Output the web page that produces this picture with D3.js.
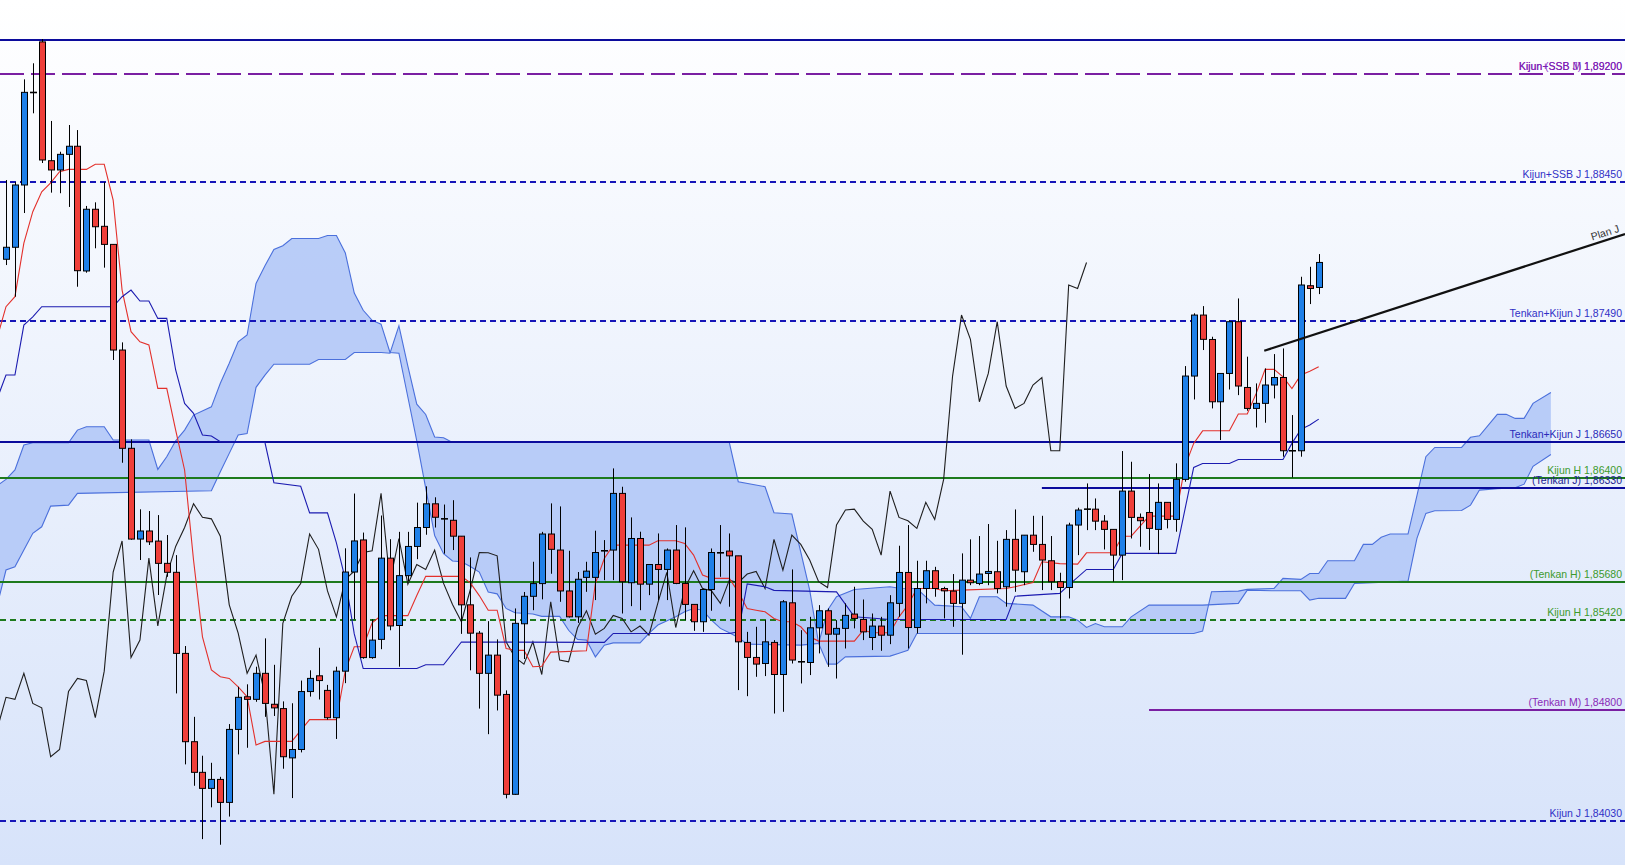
<!DOCTYPE html>
<html><head><meta charset="utf-8">
<script src="https://cdn.jsdelivr.net/npm/d3@7/dist/d3.min.js"></script>
<style>html,body{margin:0;padding:0;background:#fff;overflow:hidden}svg{display:block}</style>
</head><body>
<svg id="chart" width="1625" height="865"></svg>
<script>
// ---------------- DATA ----------------
const opens = [
1.87916,1.87999,1.8843,1.8907,1.8942,1.88598,1.88534,1.88642,1.88698,1.87835,
1.88262,1.88144,1.88019,1.87288,1.86608,1.8598,1.86036,1.85966,1.85812,1.8575,
1.85189,1.84578,1.84366,1.84255,1.84317,1.84158,1.84663,1.84889,1.84871,1.85051,
1.84837,1.84807,1.84466,1.84524,1.84925,1.85034,1.84933,1.84744,1.85066,1.85752,
1.85974,1.8516,1.85286,1.85848,1.85382,1.85727,1.85929,1.8606,1.86224,1.8612,
1.8611,1.86,1.85525,1.85329,1.85051,1.85177,1.84905,1.84214,1.85394,1.85584,
1.85672,1.86015,1.85904,1.85621,1.85442,1.85715,1.85715,1.85899,1.85904,1.86296,
1.85678,1.85984,1.85668,1.85804,1.8577,1.85904,1.85673,1.85528,1.85408,1.85631,
1.85885,1.85897,1.85864,1.85265,1.85161,1.85119,1.85265,1.85043,1.85539,1.85131,
1.85126,1.85366,1.85484,1.85322,1.85362,1.85461,1.85424,1.85299,1.85378,1.85315,
1.85535,1.85749,1.85368,1.85638,1.85761,1.85638,1.8562,1.85535,1.85696,1.85673,
1.85742,1.85754,1.8565,1.85978,1.85754,1.86007,1.85943,1.8583,1.85685,1.85645,
1.86077,1.86187,1.86187,1.86104,1.86047,1.85869,1.86312,1.8613,1.86164,1.86047,
1.86234,1.86116,1.86393,1.87108,1.8753,1.87361,1.8693,1.87126,1.87484,1.87029,
1.86884,1.86919,1.87046,1.87098,1.86591,1.86591,1.87733,1.87721];
const highs = [
1.88464,1.8845,1.89161,1.89272,1.8944,1.88873,1.8866,1.88845,1.8881,1.88285,
1.8831,1.88449,1.8802,1.87341,1.8667,1.86186,1.86174,1.86146,1.86008,1.85869,
1.8524,1.8475,1.84481,1.84432,1.84335,1.847,1.84958,1.84975,1.85097,1.85293,
1.8511,1.84857,1.84844,1.85001,1.85072,1.85228,1.84971,1.85097,1.85916,1.86295,
1.86025,1.85425,1.86143,1.85979,1.8603,1.8603,1.86232,1.86345,1.86269,1.86219,
1.86249,1.86,1.85853,1.85344,1.85412,1.85286,1.84933,1.855,1.85614,1.85823,
1.8603,1.86227,1.86206,1.85899,1.85752,1.85823,1.86038,1.85973,1.86469,1.86342,
1.8613,1.86031,1.85804,1.86019,1.85915,1.86077,1.86061,1.85528,1.85638,1.85915,
1.86077,1.86019,1.85864,1.85338,1.85373,1.85419,1.85281,1.85558,1.8577,1.8535,
1.85442,1.85523,1.855,1.85419,1.85535,1.8565,1.85562,1.85465,1.85442,1.85592,
1.85934,1.86077,1.8583,1.8583,1.85788,1.8565,1.85738,1.85881,1.85978,1.86001,
1.86084,1.85968,1.86042,1.86185,1.86007,1.86141,1.86141,1.86001,1.85747,1.86093,
1.86197,1.86365,1.86261,1.86146,1.86047,1.86589,1.86515,1.86157,1.8643,1.86365,
1.86234,1.86504,1.87177,1.87542,1.87592,1.8738,1.87126,1.87495,1.87645,1.87242,
1.87057,1.87161,1.8726,1.87299,1.86838,1.87795,1.87864,1.87952];
const lows = [
1.87876,1.87657,1.88236,1.88926,1.88582,1.88377,1.88373,1.88278,1.87726,1.87823,
1.87992,1.87858,1.87219,1.86508,1.85975,1.85835,1.85939,1.85593,1.85719,1.84912,
1.84421,1.84273,1.83904,1.84124,1.83865,1.8406,1.8449,1.84536,1.84854,1.8475,
1.84756,1.84391,1.84188,1.84504,1.8489,1.8487,1.84731,1.84597,1.84983,1.85425,
1.85152,1.85152,1.85218,1.85349,1.85097,1.8569,1.85841,1.8601,1.8606,1.85879,
1.85904,1.85324,1.85072,1.84807,1.8463,1.84794,1.84186,1.8421,1.8515,1.85488,
1.85563,1.8574,1.85546,1.85437,1.854,1.85615,1.85558,1.85696,1.85696,1.85465,
1.85516,1.85488,1.85592,1.85558,1.85558,1.85668,1.85419,1.85345,1.85338,1.85484,
1.85719,1.85512,1.84935,1.84893,1.85027,1.85032,1.84773,1.84785,1.85119,1.84981,
1.85039,1.85189,1.85096,1.85015,1.85223,1.85362,1.85281,1.85212,1.85207,1.85253,
1.85442,1.85223,1.85327,1.85535,1.85581,1.85431,1.85373,1.8518,1.85661,1.85661,
1.85661,1.85604,1.85512,1.85615,1.85661,1.85892,1.85627,1.85627,1.85431,1.85569,
1.85869,1.86042,1.86042,1.85908,1.85685,1.85696,1.85984,1.85927,1.85904,1.85876,
1.86054,1.86031,1.86377,1.86946,1.87288,1.86884,1.86665,1.87015,1.86976,1.86868,
1.86752,1.86785,1.86953,1.8655,1.86406,1.8655,1.87606,1.87675];
const closes = [
1.87999,1.8843,1.89071,1.8907,1.88603,1.88534,1.88642,1.88698,1.87837,1.88262,
1.88141,1.88019,1.87288,1.86608,1.8598,1.86036,1.85961,1.85812,1.8575,1.85189,
1.84578,1.84366,1.84255,1.84317,1.84158,1.84663,1.84885,1.84871,1.85051,1.84843,
1.84812,1.84474,1.84524,1.84925,1.85016,1.85001,1.84744,1.85066,1.85752,1.85967,
1.8516,1.85281,1.85848,1.85379,1.85727,1.85929,1.8606,1.86224,1.86131,1.8612,
1.86,1.85525,1.85329,1.85051,1.85177,1.849,1.84214,1.85397,1.85584,1.85672,
1.86015,1.85909,1.85621,1.85442,1.85702,1.85758,1.85887,1.85899,1.86296,1.85685,
1.85984,1.85668,1.85804,1.8577,1.85904,1.85673,1.85528,1.85408,1.85631,1.85887,
1.85885,1.85864,1.85269,1.85161,1.85115,1.85269,1.85043,1.85546,1.85143,1.85131,
1.85366,1.85484,1.85322,1.85362,1.85452,1.85431,1.85338,1.85378,1.85315,1.85539,
1.85749,1.85368,1.85638,1.85761,1.85638,1.85622,1.85535,1.85696,1.85678,1.85738,
1.85756,1.85638,1.85978,1.85765,1.86007,1.85943,1.85835,1.85685,1.85645,1.86077,
1.86181,1.86187,1.86104,1.86047,1.85869,1.86312,1.8613,1.86107,1.86054,1.86234,
1.86116,1.86393,1.87108,1.8753,1.87362,1.8693,1.87126,1.87484,1.87039,1.86884,
1.86919,1.87046,1.87098,1.86591,1.86591,1.87738,1.87714,1.87894];

// Ichimoku lines, vertices as [bar index, price]
const tenkan = [[-1,1.8737],[0,1.87588],[1,1.87657],[2,1.88028],[3,1.88245],[4,1.88383],[5,1.88444],[6,1.88522],[7,1.88538],[9,1.88538],[10,1.88573],[11,1.88573],[12,1.88326],[13,1.87703],[14,1.87415],[15,1.87345],[16,1.87323],[17,1.87023],[18,1.87023],[19,1.86734],[20,1.86458],[21,1.85835],[22,1.85304],[23,1.85074],[24,1.85027],[25,1.85016],[26,1.84958],[27,1.84889],[28,1.84555],[29,1.8458],[32,1.8458],[34,1.84731],[37,1.84731],[38,1.85072],[39,1.85235],[40,1.85235],[41,1.854],[42,1.8545],[45,1.8545],[46,1.85589],[47,1.85722],[51,1.85722],[52,1.85677],[53,1.85589],[54,1.85488],[55,1.85488],[56,1.85223],[57,1.8521],[58,1.8521],[59,1.85097],[60,1.851],[61,1.85198],[65,1.85207],[66,1.85673],[67,1.85846],[68,1.85938],[72,1.85938],[73,1.85968],[75,1.85968],[76,1.8595],[77,1.85869],[78,1.85731],[79,1.85708],[81,1.85708],[82,1.85615],[83,1.855],[84,1.85488],[85,1.85477],[86,1.85431],[87,1.85408],[88,1.85408],[89,1.85373],[90,1.85304],[91,1.85274],[95,1.85274],[96,1.8535],[97,1.85332],[99,1.85332],[100,1.85442],[101,1.85523],[102,1.85638],[104,1.85638],[105,1.85622],[107,1.85627],[112,1.85638],[113,1.8565],[115,1.8568],[116,1.85823],[118,1.8581],[120,1.85807],[121,1.85885],[124,1.85885],[125,1.86],[126,1.86],[127,1.8607],[128,1.86139],[131,1.86139],[132,1.8648],[133,1.86642],[134,1.86729],[137,1.86729],[138,1.86845],[139,1.86845],[140,1.86988],[141,1.87154],[142,1.87154],[143,1.87103],[144,1.87022],[145,1.87115],[146,1.87142],[147,1.87172]];
const kijun = [[-1,1.8695],[0,1.87115],[1,1.87115],[2,1.87461],[3,1.87518],[4,1.87588],[12,1.87588],[13,1.87657],[14,1.87703],[15,1.87627],[16,1.87627],[17,1.87507],[18,1.87507],[19,1.8715],[20,1.86919],[21,1.8685],[22,1.867],[23,1.86693],[24,1.86653],[29,1.86648],[30,1.8637],[33,1.86345],[34,1.86161],[36,1.86161],[37,1.85954],[38,1.85702],[39,1.85324],[40,1.85084],[46,1.85084],[47,1.8511],[49,1.8511],[51,1.85268],[67,1.85265],[68,1.85327],[81,1.85327],[82,1.85338],[83,1.8567],[85,1.8565],[86,1.85625],[93,1.85615],[95,1.85442],[99,1.85424],[112,1.85424],[113,1.85585],[118,1.85604],[119,1.85661],[121,1.8577],[124,1.8577],[125,1.85881],[131,1.85881],[133,1.86476],[134,1.86503],[137,1.86503],[138,1.86531],[143,1.86531],[144,1.86642],[145,1.86739],[146,1.86769],[147,1.8681]];
const spanA = [[-1,1.8635],[0,1.86393],[1,1.86458],[2,1.86631],[3,1.86646],[7,1.86646],[8,1.86734],[9,1.86757],[11,1.86757],[12,1.86665],[16,1.86665],[17,1.86462],[18,1.8655],[19,1.8666],[20,1.86734],[21,1.86838],[23,1.86895],[24,1.87058],[25,1.87196],[26,1.87345],[27,1.87392],[28,1.87749],[29,1.87871],[30,1.87984],[31,1.8801],[32,1.8806],[35,1.8806],[36,1.8808],[37,1.8808],[38,1.87959],[39,1.87682],[40,1.87563],[41,1.87493],[42,1.87467],[43,1.87271],[44,1.87266],[45,1.86963],[46,1.8666],[47,1.86332],[48,1.86005],[49,1.85879],[50,1.85828],[51,1.85823],[52,1.8579],[53,1.85752],[54,1.85614],[55,1.85601],[56,1.855],[57,1.8547],[59,1.85462],[60,1.85445],[62,1.85445],[63,1.85349],[64,1.85286],[65,1.85281],[66,1.85165],[67,1.85246],[68,1.85262],[71,1.85262],[72,1.85327],[73,1.85385],[75,1.85442],[76,1.85477],[77,1.855],[78,1.85488],[79,1.85419],[80,1.85362],[81,1.85332],[82,1.85299],[83,1.85253],[89,1.85246],[91,1.85258],[92,1.85488],[93,1.85581],[95,1.85631],[99,1.8565],[100,1.8564],[102,1.85638],[103,1.8558],[104,1.85523],[107,1.85512],[108,1.85431],[109,1.85581],[111,1.85581],[112,1.85535],[115,1.85523],[117,1.85442],[119,1.85442],[120,1.85419],[121,1.85369],[122,1.85396],[123,1.85373],[125,1.85373],[126,1.85442],[128,1.85523],[134,1.85523],[138,1.85535],[139,1.85627],[142,1.85622],[145,1.85622],[146,1.85558],[147,1.8557],[150,1.8557],[151,1.85673],[157,1.85689],[158,1.85985],[159,1.86158],[160,1.86176],[163,1.86178],[164,1.86215],[165,1.86319],[167,1.86328],[169,1.86335],[170,1.8636],[171,1.86483],[173,1.86565]];
const spanB = [[-1,1.8552],[0,1.85766],[1,1.85788],[2,1.85904],[3,1.8602],[4,1.86065],[5,1.86208],[7,1.86215],[8,1.86296],[23,1.86314],[24,1.86446],[25,1.86573],[26,1.867],[27,1.8671],[28,1.8703],[29,1.87114],[30,1.8719],[34,1.8719],[35,1.87223],[38,1.87223],[39,1.87271],[42,1.87271],[43,1.87266],[44,1.87455],[45,1.87177],[46,1.86913],[47,1.86842],[48,1.86686],[49,1.86681],[50,1.86648],[81,1.86648],[82,1.86377],[85,1.86342],[86,1.86162],[88,1.86153],[90,1.85627],[91,1.85258],[92,1.85115],[93,1.85115],[94,1.85165],[99,1.8517],[100,1.8519],[101,1.8521],[102,1.85327],[133,1.85327],[134,1.85343],[135,1.85616],[138,1.8562],[139,1.85632],[142,1.85639],[143,1.85708],[145,1.85701],[146,1.85742],[147,1.85742],[148,1.8583],[151,1.8583],[152,1.85943],[153,1.85943],[154,1.85992],[155,1.86015],[157,1.86015],[158,1.8628],[159,1.8655],[160,1.86614],[163,1.86614],[164,1.86684],[165,1.86695],[167,1.86843],[168,1.86843],[169,1.86815],[170,1.86815],[171,1.86919],[173,1.86994]];
const chikouShift = 26;

// horizontal levels
const levelPrices = [1.8943, 1.8920, 1.8845, 1.8749, 1.8665, 1.8640, 1.8633, 1.8568, 1.8542, 1.8480, 1.8403];
const levelLabels = ["", "Kijun+SSB M 1,89200", "Kijun+SSB J 1,88450", "Tenkan+Kijun J 1,87490", "Tenkan+Kijun J 1,86650", "Kijun H 1,86400", "(Tenkan J) 1,86330", "(Tenkan H) 1,85680", "Kijun H 1,85420", "(Tenkan M) 1,84800", "Kijun J 1,84030"];
const levelStartBar = [-2, -2, -2, -2, -2, -2, 116, -2, -2, 128, -2];
const extraLabelPrice = [1.8920];
const extraLabelText = ["Kijun (SSB J) 1,89200"];
const planJ = [[140.9, 1.87283], [181.3, 1.88091]];
const planLabel = "Plan J";

// ---------------- STYLES ----------------
const NAVY = "#0b0b9c", BLUE = "#1515b8", GREEN = "#1d7a1d", PURPLE = "#7a1fa2";
const levelStyle = [
  {c:NAVY, dash:null, tc:"#2f2fc4"},
  {c:PURPLE, dash:"24,7", tc:"#7a22b0"},
  {c:BLUE, dash:"6,4", tc:"#3030c6"},
  {c:BLUE, dash:"6,4", tc:"#3030c6"},
  {c:NAVY, dash:null, tc:"#2a2ab8"},
  {c:GREEN, dash:null, tc:"#3c9a2c"},
  {c:NAVY, dash:null, tc:"#1c1c90"},
  {c:GREEN, dash:null, tc:"#3c9a2c"},
  {c:GREEN, dash:"6,4", tc:"#3c9a2c"},
  {c:PURPLE, dash:null, tc:"#8a2ab8"},
  {c:BLUE, dash:"6,4", tc:"#3030c6"}
];

// ---------------- CHART ----------------
const W = 1625, H = 865;
const svg = d3.select("#chart");
const x = d3.scaleLinear().domain([0, 147]).range([6, 6 + 8.93 * 147]);
const y = d3.scaleLinear().domain([1.8403, 1.8920]).range([820.9, 73.7]);

const defs = svg.append("defs");
const g = defs.append("linearGradient").attr("id","bg").attr("x1",0).attr("y1",0).attr("x2",0).attr("y2",1);
g.append("stop").attr("offset","0%").attr("stop-color","#ffffff");
g.append("stop").attr("offset","100%").attr("stop-color","#d7e3fa");
svg.append("rect").attr("width",W).attr("height",H).attr("fill","url(#bg)");

const line = d3.line().x(d => x(d[0])).y(d => y(d[1]));

// cloud
const cloudPoly = spanA.concat(spanB.slice().reverse());
svg.append("path").attr("d", line(cloudPoly) + "Z").attr("fill","#b3c8f7").attr("fill-opacity",0.9);
[spanA, spanB].forEach(s => svg.append("path").attr("d", line(s)).attr("fill","none").attr("stroke","#4b70dc").attr("stroke-width",1.1));

// horizontal levels
levelPrices.forEach((p, k) => {
  const st = levelStyle[k];
  const yy = Math.round(y(p));
  svg.append("line").attr("x1", Math.max(0, x(levelStartBar[k]))).attr("x2", W)
    .attr("y1", yy).attr("y2", yy).attr("stroke", st.c).attr("stroke-width", 2)
    .attr("stroke-dasharray", st.dash);
});

// ichimoku lines
const chikou = closes.map((c, k) => [k - chikouShift, c]).filter(d => d[0] >= -1);
svg.append("path").attr("d", line(chikou)).attr("fill","none").attr("stroke","#1e1e1e").attr("stroke-width",1.1);
svg.append("path").attr("d", line(tenkan)).attr("fill","none").attr("stroke","#e3302b").attr("stroke-width",1.1);
svg.append("path").attr("d", line(kijun)).attr("fill","none").attr("stroke","#1b1bb0").attr("stroke-width",1.1);

// candles
const bars = opens.map((o, i) => ({i, o, h: highs[i], l: lows[i], c: closes[i]}));
const cg = svg.append("g");
bars.forEach(b => {
  const cx = Math.round(x(b.i)) + 0.5;
  cg.append("line").attr("x1",cx).attr("x2",cx).attr("y1",y(b.h)).attr("y2",y(b.l))
    .attr("stroke","#000").attr("stroke-width",1);
  if (Math.abs(b.o - b.c) < 0.00002) {
    cg.append("line").attr("x1",cx-3.5).attr("x2",cx+3.5).attr("y1",y(b.o)).attr("y2",y(b.o))
      .attr("stroke","#000").attr("stroke-width",1.6);
  } else {
    const top = y(Math.max(b.o, b.c)), bot = y(Math.min(b.o, b.c));
    cg.append("rect").attr("x", cx - 3).attr("y", top).attr("width", 6).attr("height", Math.max(1, bot - top))
      .attr("fill", b.c > b.o ? "#1f80e8" : "#ef3f3a").attr("stroke","#000").attr("stroke-width",1);
  }
});

// plan line
svg.append("path").attr("d", line(planJ)).attr("stroke","#111").attr("stroke-width",2.2).attr("fill","none");
{
  const x0 = x(planJ[0][0]), y0 = y(planJ[0][1]), x1 = x(planJ[1][0]), y1 = y(planJ[1][1]);
  const ang = Math.atan2(y1 - y0, x1 - x0) * 180 / Math.PI;
  const tx = 1620, ty = y0 + (y1 - y0) * (tx - x0) / (x1 - x0) - 4;
  svg.append("text").attr("x", tx).attr("y", ty).attr("text-anchor","end")
    .attr("transform", `rotate(${ang},${tx},${ty})`)
    .attr("font-family","Liberation Sans, Arial, sans-serif").attr("font-size",10.5).attr("fill","#333")
    .text(planLabel);
}

// labels
const font = "Liberation Sans, Arial, sans-serif";
extraLabelPrice.forEach((p, k) => {
  svg.append("text").attr("x", 1622).attr("y", y(p) - 4).attr("text-anchor","end")
    .attr("font-family", font).attr("font-size", 10.5).attr("fill", "#9a3cd0").text(extraLabelText[k]);
});
levelPrices.forEach((p, k) => {
  if (!levelLabels[k]) return;
  svg.append("text").attr("x", 1622).attr("y", y(p) - 4).attr("text-anchor","end")
    .attr("font-family", font).attr("font-size", 10.5).attr("fill", levelStyle[k].tc).text(levelLabels[k]);
});
</script>
</body></html>
